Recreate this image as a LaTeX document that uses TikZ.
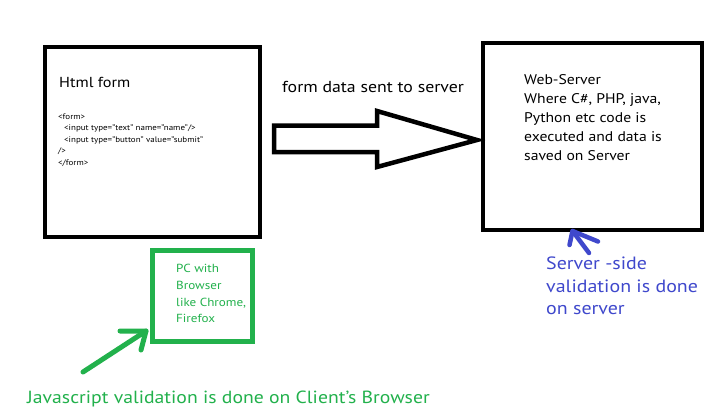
\documentclass[tikz,border=0pt]{standalone}
\usepackage{fontspec}
\setmainfont{PT Sans}[FakeStretch=1.12]
\definecolor{pgreen}{HTML}{22B14C}
\definecolor{pblue}{HTML}{3F48CC}
\tikzset{
  blackbox/.style={draw=black, line width=4.5pt, inner sep=0pt, fill=white},
  greenbox/.style={draw=pgreen, line width=5pt, inner sep=0pt},
  txt/.style={anchor=base west, inner sep=0pt, text=black},
  blockarrow/.style={draw=black, line width=4.5pt, line join=miter, fill=white},
  greenline/.style={draw=pgreen, line width=5pt, line cap=round, line join=round},
  blueline/.style={draw=pblue, line width=4.5pt, line cap=round, line join=round}
}
\begin{document}
\begin{tikzpicture}[x=1pt,y=-1pt]
\useasboundingbox (0,0) rectangle (707,413);
\fill[white] (0,0) rectangle (707,413);

% boxes
\node[blackbox, minimum width=215pt, minimum height=190pt] (html) at (152.5,142) {};
\node[blackbox, minimum width=219pt, minimum height=187pt] (server) at (592.5,136.5) {};
\node[greenbox, minimum width=100.5pt, minimum height=90.5pt] (pc) at (202.25,295.75) {};

% html form text
\node[txt, font=\fontsize{14.5}{16}\selectfont] (htmltitle) at (59,87) {Html form};
\node[txt, font=\fontsize{8}{10}\selectfont] (c1) at (58,119) {<form>};
\node[txt, font=\fontsize{8}{10}\selectfont] (c2) at (64,130.6) {<input type="text" name="name"/>};
\node[txt, font=\fontsize{8}{10}\selectfont] (c3) at (64,142.2) {<input type="button" value="submit"};
\node[txt, font=\fontsize{8}{10}\selectfont] (c4) at (58,153.8) {/>};
\node[txt, font=\fontsize{8}{10}\selectfont] (c5) at (58,165.4) {</form>};

% block arrow
\draw[blockarrow] (274,125.5) -- (377,125.5) -- (377,111) -- (477,140) -- (377,167) -- (377,152) -- (274,152) -- cycle;
\node[txt, font=\fontsize{15.9}{18}\selectfont] (sendlabel) at (282,92) {form data sent to server};

% server text
\node[txt, font=\fontsize{14}{16}\selectfont] (s1) at (524,84) {Web-Server};
\node[txt, font=\fontsize{14}{16}\selectfont] (s2) at (524,103) {Where C\#, PHP, java,};
\node[txt, font=\fontsize{14}{16}\selectfont] (s3) at (524,122) {Python etc code is};
\node[txt, font=\fontsize{14}{16}\selectfont] (s4) at (524,141) {executed and data is};
\node[txt, font=\fontsize{14}{16}\selectfont] (s5) at (524,160) {saved on Server};

% pc text
\node[txt, text=pgreen, font=\fontsize{11.7}{14}\selectfont] (p1) at (176,272) {PC with};
\node[txt, text=pgreen, font=\fontsize{11.7}{14}\selectfont] (p2) at (176,289) {Browser};
\node[txt, text=pgreen, font=\fontsize{11.7}{14}\selectfont] (p3) at (176,306) {like Chrome,};
\node[txt, text=pgreen, font=\fontsize{11.7}{14}\selectfont] (p4) at (176,322.5) {Firefox};

% green arrow
\coordinate (gtail) at (83,372);
\coordinate (gtip) at (146,331);
\coordinate (gl) at (120,331);
\coordinate (gd) at (141,350);
\draw[greenline] (gtail) -- (gtip);
\draw[greenline] (gl) -- (gtip) -- (gd);
\node[txt, text=pgreen, font=\fontsize{17.6}{20}\selectfont] (js) at (27,403) {Javascript validation is done on Client's Browser};

% blue arrow
\coordinate (btip) at (572.5,231);
\coordinate (btail) at (589,253);
\coordinate (bl) at (569.5,245);
\coordinate (br) at (598,241.5);
\draw[blueline] (btail) -- (btip);
\draw[blueline] (bl) -- (btip) -- (br);
\node[txt, text=pblue, font=\fontsize{17.8}{20}\selectfont] (b1) at (546,269) {Server -side};
\node[txt, text=pblue, font=\fontsize{17.8}{20}\selectfont] (b2) at (546,292) {validation is done};
\node[txt, text=pblue, font=\fontsize{17.8}{20}\selectfont] (b3) at (546,314) {on server};
\end{tikzpicture}
\end{document}
